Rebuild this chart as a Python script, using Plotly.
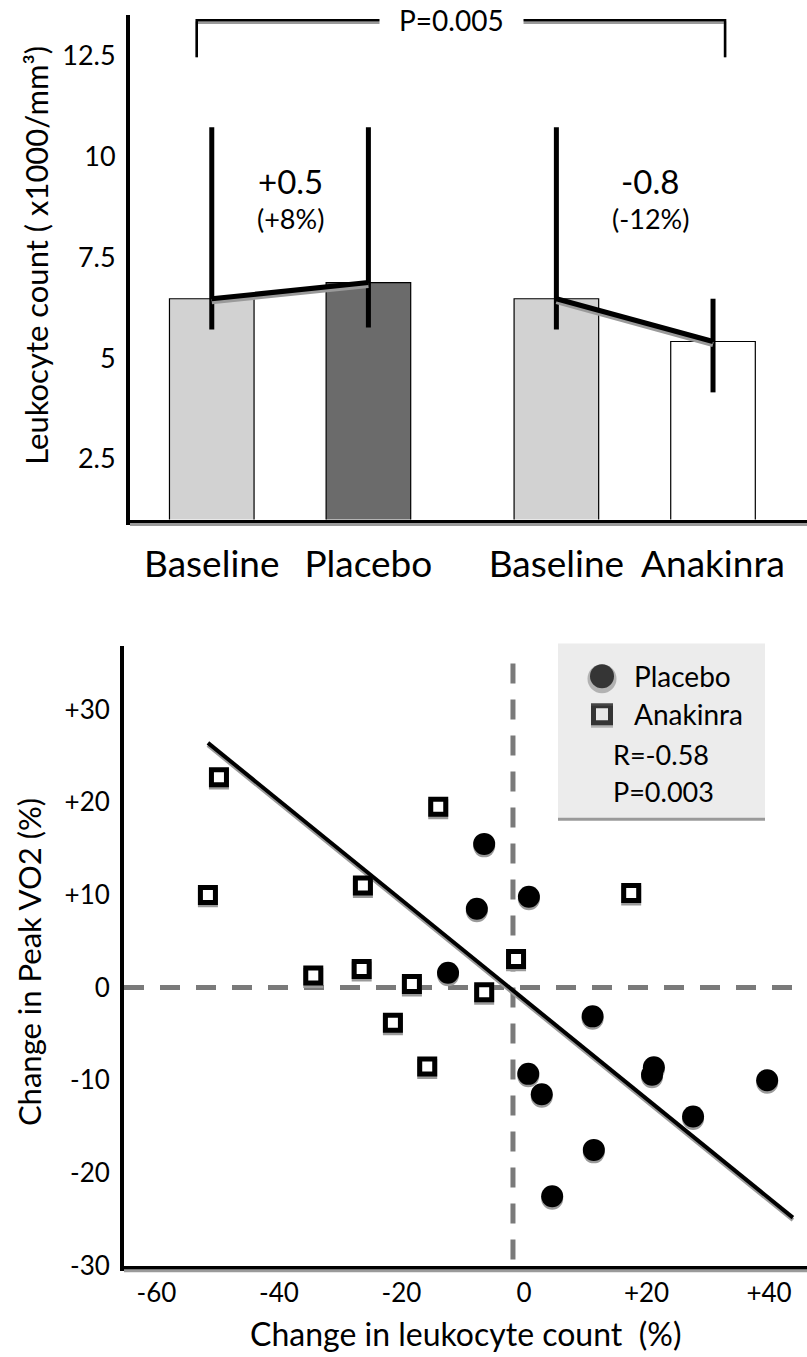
import plotly.graph_objects as go

# ---------------- top panel data ----------------
bar_labels = ["Baseline", "Placebo", "Baseline", "Anakinra"]
bar_group = [0, 0, 1, 1]
bar_slot = [0, 1, 0, 1]
bar_means = [6.47, 6.87, 6.47, 5.41]
bar_upper = [10.72, 10.72, 10.72, 6.47]
bar_lower = [5.71, 5.76, 5.71, 4.15]
bar_colors = ["#d2d2d2", "#6b6b6b", "#d2d2d2", "#ffffff"]
top_yticks = [2.5, 5, 7.5, 10, 12.5]
top_yticklabels = ["2.5", "5", "7.5", "10", "12.5"]
change_abs = ["+0.5", "-0.8"]
change_pct = ["(+8%)", "(-12%)"]
top_p = "P=0.005"
top_ytitle = "Leukocyte count ( x1000/mm³)"

# ---------------- bottom panel data ----------------
placebo_x = [-6.5, -7.7, 0.8, -12.4, 11.2, 0.7, 2.9, 21.2, 20.9, 27.6, 39.7, 11.4, 4.6]
placebo_y = [15.5, 8.5, 9.8, 1.6, -3.1, -9.3, -11.5, -8.6, -9.4, -13.9, -10.0, -17.5, -22.5]
anakinra_x = [-49.8, -51.6, -26.3, -34.4, -26.5, -14.0, 17.5, -1.3, -18.3, -6.5, -21.4, -15.8]
anakinra_y = [22.7, 10.0, 11.0, 1.3, 2.0, 19.5, 10.2, 3.1, 0.4, -0.5, -3.8, -8.5]
fit_x = [-51.6, 43.9]
fit_y = [26.4, -24.8]
ref_x = -1.8
ref_y = 0
bot_xticks = [-60, -40, -20, 0, 20, 40]
bot_xticklabels = ["-60", "-40", "-20", "0", "+20", "+40"]
bot_yticks = [-30, -20, -10, 0, 10, 20, 30]
bot_yticklabels = ["-30", "-20", "-10", "0", "+10", "+20", "+30"]
stat_r = "R=-0.58"
stat_p = "P=0.003"
bot_xtitle = "Change in leukocyte count\u00a0 (%)"
bot_ytitle = "Change in Peak VO2 (%)"
series_names = ["Placebo", "Anakinra"]

# ---------------- layout constants ----------------
W = 807
YS = 1 / 0.99          # page-to-photo vertical compensation
H = 1371
FONT = "Lato, 'Open Sans', sans-serif"
TOP_L, TOP_T, TOP_B = 130, 15, 520
BOT_L, BOT_T, BOT_B = 124, 647, 1267
GROUP_GAP = 2.2
TOP_XR = [-0.522, 3.8]
TOP_YR = [1.0, 13.5]
BOT_XR = [-65.3, 46.2]
BOT_YR = [-30, 36.8]
SHADOW = "#9a9a9a"


def py(p):
    """photo pixel row -> paper fraction"""
    return 1 - p * YS / H


top_ppu = (TOP_B - TOP_T) * YS / (TOP_YR[1] - TOP_YR[0])
top_xppu = (W - TOP_L) / (TOP_XR[1] - TOP_XR[0])
bot_ppu = (BOT_B - BOT_T) * YS / (BOT_YR[1] - BOT_YR[0])

pos = [g * GROUP_GAP + s for g, s in zip(bar_group, bar_slot)]

fig = go.Figure()

# bars with error bars
fig.add_trace(go.Bar(
    x=pos, y=bar_means, width=0.54,
    marker=dict(color=bar_colors, line=dict(color="black", width=1.2)),
    error_y=dict(type="data", symmetric=False,
                 array=[u - m for u, m in zip(bar_upper, bar_means)],
                 arrayminus=[m - l for m, l in zip(bar_means, bar_lower)],
                 thickness=5, width=0, color="black"),
    xaxis="x", yaxis="y", showlegend=False, hoverinfo="skip"))

# connecting lines (with shadow)
for g in (0, 1):
    idx = [i for i in range(4) if bar_group[i] == g]
    xs = [pos[i] for i in idx]
    ys = [bar_means[i] for i in idx]
    fig.add_trace(go.Scatter(x=xs, y=[v - 3 / top_ppu for v in ys], mode="lines",
                             line=dict(color=SHADOW, width=5), xaxis="x", yaxis="y",
                             showlegend=False, hoverinfo="skip"))
    fig.add_trace(go.Scatter(x=xs, y=ys, mode="lines",
                             line=dict(color="black", width=5), xaxis="x", yaxis="y",
                             showlegend=False, hoverinfo="skip"))

shapes = []
annotations = []

# bracket
bx0, bx1 = pos[0] - 0.096, pos[3] + 0.077
by0, by1 = 12.45, 13.37
for col, off in ((SHADOW, 2.5 / top_ppu), ("black", 0)):
    shapes.append(dict(type="path", xref="x", yref="y",
                       path=f"M {bx0},{by0} L {bx0},{by1 - off} L {bx1},{by1 - off} L {bx1},{by0}",
                       line=dict(color=col, width=2.5)))
annotations.append(dict(x=pos[0] + 240 / top_xppu, y=by1, xref="x", yref="y", text=top_p,
                        showarrow=False, font=dict(size=28, color="black", family=FONT),
                        bgcolor="white", borderpad=19, xanchor="center", yanchor="middle"))

# change annotations
for g, (t1, t2) in enumerate(zip(change_abs, change_pct)):
    idx = [i for i in range(4) if bar_group[i] == g]
    cx = sum(pos[i] for i in idx) / 2 + (0.0 if g == 0 else 0.1)
    annotations.append(dict(x=cx, y=9.39, xref="x", yref="y", text=t1, showarrow=False,
                            font=dict(size=33, color="black", family=FONT)))
    annotations.append(dict(x=cx, y=8.47, xref="x", yref="y", text=t2, showarrow=False,
                            font=dict(size=27, color="black", family=FONT)))

# top axis shadow
shapes.append(dict(type="line", xref="x domain", yref="y domain", x0=0, x1=1,
                   y0=-5 / ((TOP_B - TOP_T) * YS), y1=-5 / ((TOP_B - TOP_T) * YS),
                   line=dict(color=SHADOW, width=3)))

# ---------------- bottom panel ----------------
shapes.append(dict(type="line", xref="x2 domain", yref="y2", x0=0, x1=1, y0=ref_y, y1=ref_y,
                   line=dict(color="#7a7a7a", width=5, dash="20px,16px"), layer="below"))
shapes.append(dict(type="line", xref="x2", yref="y2 domain", x0=ref_x, x1=ref_x, y0=0.01, y1=0.99,
                   line=dict(color="#7a7a7a", width=5, dash="20px,16px"), layer="below"))
shapes.append(dict(type="line", xref="x2 domain", yref="y2 domain", x0=0, x1=1,
                   y0=-5 / ((BOT_B - BOT_T) * YS), y1=-5 / ((BOT_B - BOT_T) * YS),
                   line=dict(color=SHADOW, width=3)))

# regression line
fig.add_trace(go.Scatter(x=fit_x, y=[v - 2.5 / bot_ppu for v in fit_y], mode="lines",
                         line=dict(color=SHADOW, width=4), xaxis="x2", yaxis="y2",
                         showlegend=False, hoverinfo="skip"))
fig.add_trace(go.Scatter(x=fit_x, y=fit_y, mode="lines",
                         line=dict(color="black", width=4), xaxis="x2", yaxis="y2",
                         showlegend=False, hoverinfo="skip"))

# marker shadows
sh = 2.5 / bot_ppu
fig.add_trace(go.Scatter(x=placebo_x, y=[v - sh for v in placebo_y], mode="markers",
                         marker=dict(symbol="circle", size=22, color=SHADOW),
                         xaxis="x2", yaxis="y2", showlegend=False, hoverinfo="skip"))
fig.add_trace(go.Scatter(x=anakinra_x, y=[v - sh for v in anakinra_y], mode="markers",
                         marker=dict(symbol="square", size=15, color=SHADOW,
                                     line=dict(color=SHADOW, width=5)),
                         xaxis="x2", yaxis="y2", showlegend=False, hoverinfo="skip"))
# markers
fig.add_trace(go.Scatter(x=placebo_x, y=placebo_y, mode="markers", name=series_names[0],
                         marker=dict(symbol="circle", size=22, color="black"),
                         xaxis="x2", yaxis="y2", showlegend=False))
fig.add_trace(go.Scatter(x=anakinra_x, y=anakinra_y, mode="markers", name=series_names[1],
                         marker=dict(symbol="square", size=15, color="white",
                                     line=dict(color="black", width=5)),
                         xaxis="x2", yaxis="y2", showlegend=False))

# legend box (manual)
LB = dict(x0=558, x1=765, y0=644, y1=819)
shapes.append(dict(type="rect", xref="paper", yref="paper",
                   x0=LB["x0"] / W, x1=LB["x1"] / W, y0=py(LB["y1"]), y1=py(LB["y0"]),
                   fillcolor="#ececec", line=dict(width=0), layer="below"))
shapes.append(dict(type="line", xref="paper", yref="paper",
                   x0=LB["x0"] / W, x1=LB["x1"] / W, y0=py(LB["y1"] + 1), y1=py(LB["y1"] + 1),
                   line=dict(color=SHADOW, width=3)))
leg_sym_x = [602, 602]
leg_sym_y = [677, 715]
fig.add_trace(go.Scatter(x=leg_sym_x, y=[v * YS + 2.5 for v in leg_sym_y], mode="markers",
                         marker=dict(symbol=["circle", "square"], size=[24, 17], color=SHADOW,
                                     line=dict(color=SHADOW, width=5)),
                         xaxis="x3", yaxis="y3", showlegend=False, hoverinfo="skip"))
fig.add_trace(go.Scatter(x=leg_sym_x, y=[v * YS for v in leg_sym_y], mode="markers",
                         marker=dict(symbol=["circle", "square"], size=[24, 17], color=["black", "white"],
                                     line=dict(color="black", width=[0, 5])),
                         xaxis="x3", yaxis="y3", showlegend=False, hoverinfo="skip"))
for name, yy in zip(series_names, leg_sym_y):
    annotations.append(dict(x=632 / W, y=py(yy), xref="paper", yref="paper", text=name,
                            showarrow=False, xanchor="left", yanchor="middle",
                            font=dict(size=28, color="black", family=FONT)))
for txt, yy in ((stat_r, 755), (stat_p, 792)):
    annotations.append(dict(x=611 / W, y=py(yy), xref="paper", yref="paper", text=txt,
                            showarrow=False, xanchor="left", yanchor="middle",
                            font=dict(size=27, color="black", family=FONT)))

# axis titles
annotations.append(dict(x=36 / W, y=py(256), xref="paper", yref="paper", text=top_ytitle,
                        textangle=-90, showarrow=False, xanchor="center", yanchor="middle",
                        font=dict(size=31, color="black", family=FONT)))
annotations.append(dict(x=29 / W, y=py(963), xref="paper", yref="paper", text=bot_ytitle,
                        textangle=-90, showarrow=False, xanchor="center", yanchor="middle",
                        font=dict(size=31, color="black", family=FONT)))
annotations.append(dict(x=465 / W, y=py(1335), xref="paper", yref="paper", text=bot_xtitle,
                        showarrow=False, xanchor="center", yanchor="middle",
                        font=dict(size=32, color="black", family=FONT)))

axis_common = dict(showgrid=False, zeroline=False, ticks="", showline=True,
                   linecolor="black", color="black")

fig.update_layout(
    width=W, height=H,
    margin=dict(l=0, r=0, t=0, b=0),
    paper_bgcolor="white", plot_bgcolor="rgba(0,0,0,0)",
    font=dict(family=FONT, color="black"),
    showlegend=False,
    bargap=0,
    xaxis=dict(domain=[TOP_L / W, 1], range=TOP_XR, tickvals=pos, ticktext=bar_labels,
               tickfont=dict(size=37, family=FONT), ticklabelstandoff=8, linewidth=5,
               anchor="y", **axis_common),
    yaxis=dict(domain=[py(TOP_B), py(TOP_T)], range=TOP_YR, tickvals=top_yticks,
               ticktext=top_yticklabels, tickfont=dict(size=27, family=FONT),
               ticklabelstandoff=5, linewidth=4, anchor="x", **axis_common),
    xaxis2=dict(domain=[BOT_L / W, 1], range=BOT_XR, tickvals=bot_xticks, ticktext=bot_xticklabels,
                tickfont=dict(size=26, family=FONT), ticklabelstandoff=0, linewidth=5,
                anchor="y2", **axis_common),
    yaxis2=dict(domain=[py(BOT_B), py(BOT_T)], range=BOT_YR, tickvals=bot_yticks,
                ticktext=bot_yticklabels, tickfont=dict(size=26, family=FONT),
                ticklabelstandoff=5, linewidth=4, anchor="x2", **axis_common),
    xaxis3=dict(domain=[0, 1], range=[0, W], visible=False, anchor="y3"),
    yaxis3=dict(domain=[0, 1], range=[H, 0], visible=False, anchor="x3"),
    shapes=shapes,
    annotations=annotations,
)

fig.write_html(
    "out.html",
    config={"displayModeBar": False, "staticPlot": True},
    post_script=(
        "document.documentElement.style.margin='0';"
        "document.body.style.margin='0';"
        "document.body.style.overflow='hidden';"
        "var d=document.getElementById('{plot_id}');"
        "d.style.position='fixed';d.style.top='0px';d.style.left='0px';"
    ),
)
